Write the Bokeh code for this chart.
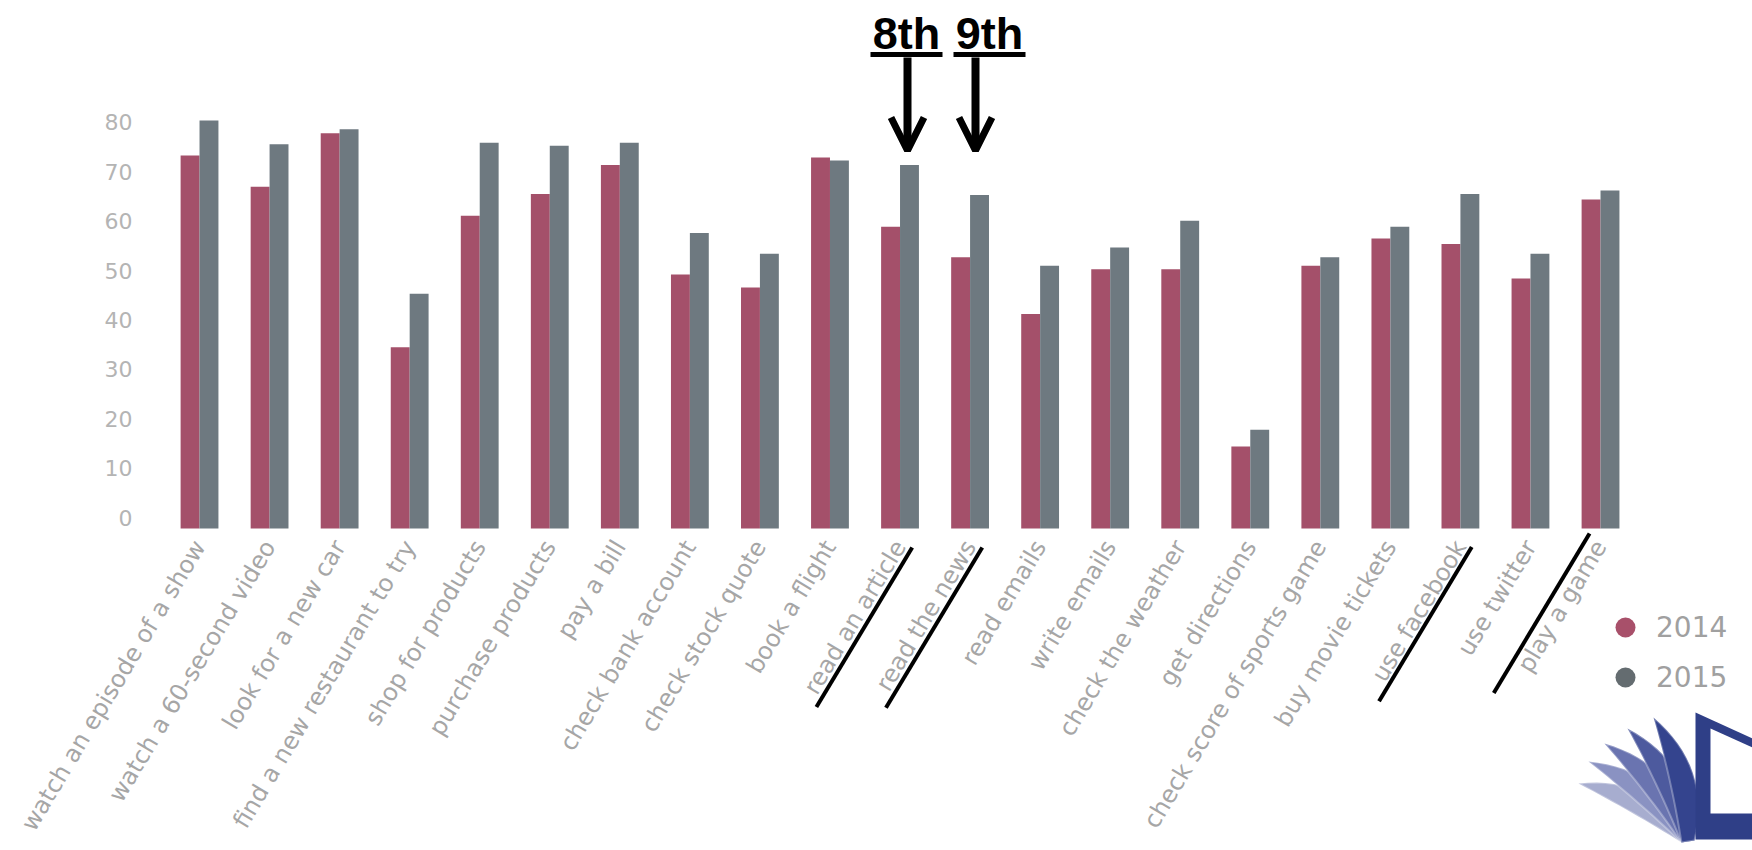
import math
from bokeh.plotting import figure
from bokeh.models import (Range1d, FixedTicker, Legend, LegendItem, Arrow, OpenHead,
                          Label, PolyAnnotation, ColumnDataSource)
from bokeh.transform import dodge
from bokeh.embed import file_html
from bokeh.resources import INLINE

# ---------------- data ----------------
categories = [
    "watch an episode of a show", "watch a 60-second video", "look for a new car",
    "find a new restaurant to try", "shop for products", "purchase products", "pay a bill",
    "check bank account", "check stock quote", "book a flight", "read an article",
    "read the news", "read emails", "write emails", "check the weather", "get directions",
    "check score of sports game", "buy movie tickets", "use facebook", "use twitter",
    "play a game",
]
values_2014 = [73.3, 67.0, 77.8, 34.5, 61.1, 65.5, 71.4, 49.2, 46.6, 72.9, 58.9,
               52.7, 41.2, 50.3, 50.3, 14.4, 51.0, 56.5, 55.4, 48.4, 64.4]
values_2015 = [80.4, 75.6, 78.6, 45.3, 75.9, 75.3, 75.9, 57.6, 53.4, 72.3, 71.4,
               65.3, 51.0, 54.7, 60.1, 17.8, 52.7, 58.9, 65.5, 53.4, 66.2]
years = ["2014", "2015"]
y_ticks = [0, 10, 20, 30, 40, 50, 60, 70, 80]
ranked = ["read an article", "read the news"]
rank_labels = ["8th", "9th"]
underlined = ["read an article", "read the news", "use facebook", "play a game"]

# ---------------- layout constants ----------------
W, H = 1752, 850
AXIS_LEFT_PX = 164      # where the value axis sits
BASE_PX = 528           # where the category axis (bar baseline) sits
PX_PER_X = 70.05
PX_PER_Y = 4.94
X_AXIS_POS = -0.5
Y_BASE = -2.2
X_START = X_AXIS_POS - AXIS_LEFT_PX / PX_PER_X
X_END = X_START + W / PX_PER_X
Y_END = Y_BASE + BASE_PX / PX_PER_Y
Y_START = Y_END - H / PX_PER_Y
BAR_W = 0.27
LABEL_ANGLE = 59
LABEL_STANDOFF = 14

RED = "#a4506a"
GRAY = "#6e7980"
LEG_RED = "#a8506a"
LEG_GRAY = "#646c70"
LABEL_GRAY = "#a6a6a6"


def dx(px):
    return X_START + px / PX_PER_X


def dy(py):
    return Y_END - py / PX_PER_Y


def px_of_x(x):
    return (x - X_START) * PX_PER_X


src = ColumnDataSource(dict(idx=list(range(len(categories))), cat=categories,
                            v2014=values_2014, v2015=values_2015))

p = figure(width=W, height=H,
           min_border_left=0, min_border_right=0, min_border_top=0, min_border_bottom=0,
           x_range=Range1d(X_START, X_END), y_range=Range1d(Y_START, Y_END),
           output_backend="svg", toolbar_location=None, tools="")
p.background_fill_color = "white"
p.border_fill_color = "white"
p.outline_line_color = None
p.xgrid.visible = False
p.ygrid.visible = False

p.vbar(x=dodge("idx", -BAR_W / 2), top="v2014", bottom=Y_BASE, width=BAR_W,
       source=src, fill_color=RED, line_color=None)
p.vbar(x=dodge("idx", BAR_W / 2), top="v2015", bottom=Y_BASE, width=BAR_W,
       source=src, fill_color=GRAY, line_color=None)

# axes (drawn at fixed locations inside the canvas)
yax = p.yaxis[0]
yax.fixed_location = X_AXIS_POS
yax.ticker = FixedTicker(ticks=y_ticks)
yax.axis_line_color = None
yax.major_tick_line_color = None
yax.minor_tick_line_color = None
yax.major_tick_out = 0
yax.major_tick_in = 0
yax.major_label_standoff = 32
yax.major_label_text_font = "DejaVu Sans"
yax.major_label_text_font_size = "22px"
yax.major_label_text_color = "#b4b4b4"

xax = p.xaxis[0]
xax.fixed_location = Y_BASE
xax.ticker = FixedTicker(ticks=list(range(len(categories))))
xax.major_label_overrides = {i: c for i, c in enumerate(categories)}
xax.major_label_orientation = math.radians(LABEL_ANGLE)
xax.axis_line_color = None
xax.major_tick_line_color = None
xax.minor_tick_line_color = None
xax.major_tick_out = 0
xax.major_tick_in = 0
xax.major_label_standoff = LABEL_STANDOFF
xax.major_label_text_font = "DejaVu Sans"
xax.major_label_text_font_size = "24px"
xax.major_label_text_color = LABEL_GRAY

# legend (circles); one NaN point so the legend has a glyph to draw
r14 = p.scatter(x=[0], y=[float("nan")], marker="circle", size=20,
                fill_color=LEG_RED, line_color=None)
r15 = p.scatter(x=[0], y=[float("nan")], marker="circle", size=20,
                fill_color=LEG_GRAY, line_color=None)
legend = Legend(items=[LegendItem(label=years[0], renderers=[r14]),
                       LegendItem(label=years[1], renderers=[r15])],
                location=(1600, H - 702),
                glyph_width=50, glyph_height=50, spacing=0, padding=0, margin=0,
                label_standoff=6, border_line_color=None, background_fill_alpha=0,
                label_text_font="DejaVu Sans", label_text_font_size="28px",
                label_text_color="#a0a0a0")
p.add_layout(legend)

# rank arrows and labels
arrow_px = [907, 975]
label_px = [906, 989]
for k, cat in enumerate(ranked):
    ax = dx(arrow_px[k])
    p.add_layout(Arrow(x_start=ax, y_start=dy(57), x_end=ax, y_end=dy(150),
                       end=OpenHead(size=33, line_width=7, line_color="black"),
                       line_width=8, line_color="black"))
    p.add_layout(Label(x=dx(label_px[k]), y=dy(33), text=rank_labels[k],
                       text_align="center", text_baseline="middle",
                       text_font="Liberation Sans", text_font_style="bold",
                       text_font_size="45px", text_color="black"))
    p.add_layout(Arrow(x_start=dx(label_px[k] - 36), y_start=dy(54),
                       x_end=dx(label_px[k] + 36), y_end=dy(54), end=None,
                       line_width=5, line_color="black"))

# hand-drawn lines along highlighted labels: (side offset px, length px)
line_style = {
    "read an article": (13, 186),
    "read the news": (13, 187),
    "use facebook": (12, 180),
    "play a game": (-14, 186),
}
a = math.radians(LABEL_ANGLE)
dirx, diry = -math.cos(a), math.sin(a)      # along text, downwards (screen px)
nrmx, nrmy = math.sin(a), math.cos(a)       # to the lower-right of the text
for cat in underlined:
    off, length = line_style[cat]
    tx = px_of_x(categories.index(cat))
    ty = BASE_PX + LABEL_STANDOFF
    x0 = tx + nrmx * off - dirx * 2
    y0 = ty + nrmy * off - diry * 2
    x1 = x0 + dirx * length
    y1 = y0 + diry * length
    p.add_layout(Arrow(x_start=dx(x0), y_start=dy(y0), x_end=dx(x1), y_end=dy(y1),
                       end=None, line_width=4, line_color="black"))


# logo (open book), bottom right
def bez(a0, c, b, n=16):
    pts = []
    for i in range(n + 1):
        t = i / n
        pts.append(((1 - t) ** 2 * a0[0] + 2 * (1 - t) * t * c[0] + t ** 2 * b[0],
                    (1 - t) ** 2 * a0[1] + 2 * (1 - t) * t * c[1] + t ** 2 * b[1]))
    return pts


tips = [(1578, 783), (1588, 761), (1604, 743), (1627, 728), (1653, 717)]
blade_colors = ["#a7adcf", "#8a92c2", "#6a74b0", "#4d5a9e", "#34448e"]
base = (1691, 840)
for (tx, ty), col in zip(tips, blade_colors):
    ddx, ddy = base[0] - tx, base[1] - ty
    L = math.hypot(ddx, ddy)
    nx, ny = ddy / L, -ddx / L
    mx, my = (tx + base[0]) / 2 + nx * 20, (ty + base[1]) / 2 + ny * 20
    cu = (mx + nx * 21, my + ny * 21)
    cl = (mx - nx * 21, my - ny * 21)
    pts = bez((tx, ty), cu, (base[0] + 3, base[1])) + bez((base[0] - 10, base[1] + 2), cl, (tx, ty))
    p.add_layout(PolyAnnotation(xs=[dx(x) for x, _ in pts], ys=[dy(y) for _, y in pts],
                                fill_color=col, fill_alpha=1.0,
                                line_color="white", line_width=2))

outer = [(1695, 712), (1752, 738), (1752, 839), (1695, 839)]
inner = [(1710, 728), (1752, 747), (1752, 813), (1710, 813)]
p.add_layout(PolyAnnotation(xs=[dx(x) for x, _ in outer], ys=[dy(y) for _, y in outer],
                            fill_color="#2f3f87", fill_alpha=1.0, line_color=None))
p.add_layout(PolyAnnotation(xs=[dx(x) for x, _ in inner], ys=[dy(y) for _, y in inner],
                            fill_color="white", fill_alpha=1.0, line_color=None))

open("out.html", "w").write(file_html(p, INLINE))
